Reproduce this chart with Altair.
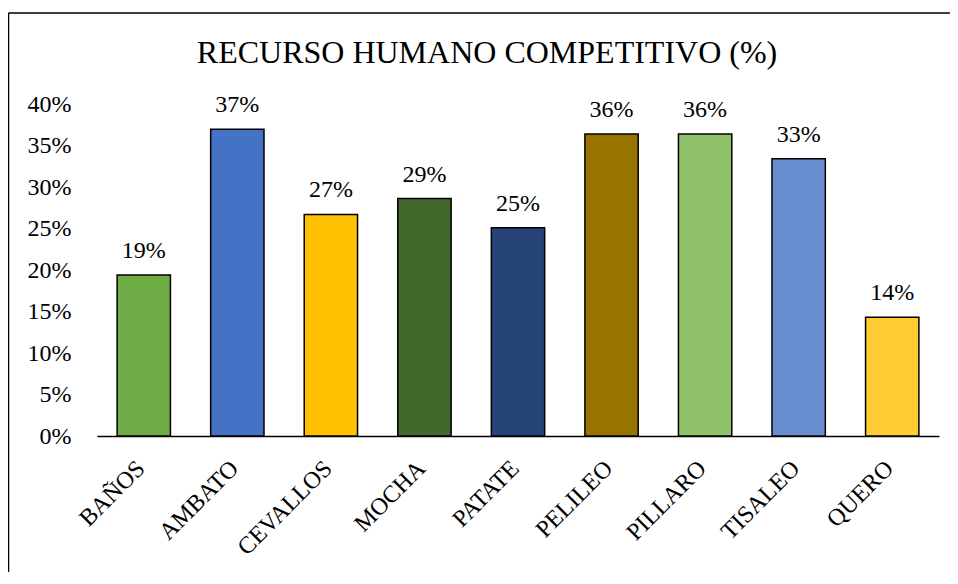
import altair as alt
import pandas as pd

cantones = ["BAÑOS", "AMBATO", "CEVALLOS", "MOCHA", "PATATE", "PELILEO", "PILLARO", "TISALEO", "QUERO"]
valores = [0.194, 0.3695, 0.267, 0.286, 0.251, 0.364, 0.364, 0.334, 0.143]
colores = ["#70AD47", "#4472C4", "#FFC000", "#43682B", "#264478", "#997300", "#8FC16A", "#698ED0", "#FFCD33"]
y_ticks = [0, 0.05, 0.10, 0.15, 0.20, 0.25, 0.30, 0.35, 0.40]
titulo = ["RECURSO HUMANO COMPETITIVO (%)"]

df = pd.DataFrame({"canton": cantones, "valor": valores, "color": colores})
df_titulo = pd.DataFrame({"t": titulo})

FONT = "Liberation Serif"

x = alt.X("canton:N", sort=cantones, title=None,
          scale=alt.Scale(paddingInner=0.43, paddingOuter=0.215),
          axis=alt.Axis(labelAngle=-45, labelFontSize=24, labelFont=FONT, labelColor="#000000",
                        ticks=False, domainColor="#000000", domainWidth=1.5, labelPadding=20,
                        labelOffset=-11, labelLimit=300))
y = alt.Y("valor:Q", title=None,
          scale=alt.Scale(domain=[0, 0.4], nice=False),
          axis=alt.Axis(values=y_ticks, format=".0%", labelFontSize=24, labelFont=FONT,
                        labelColor="#000000", ticks=False, domain=False, grid=False,
                        labelPadding=26))

bars = alt.Chart(df).mark_bar(stroke="#000000", strokeWidth=1.5).encode(
    x=x, y=y, color=alt.Color("color:N", scale=None)
)

labels = alt.Chart(df).mark_text(baseline="alphabetic", dy=-17, fontSize=24, font=FONT,
                                 color="#000000").encode(
    x=alt.X("canton:N", sort=cantones),
    y="valor:Q",
    text=alt.Text("valor:Q", format=".0%"),
)

title = alt.Chart(df_titulo).mark_text(baseline="alphabetic", align="center", fontSize=32,
                                       font=FONT, color="#000000").encode(
    x=alt.value(390), y=alt.value(-41), text="t:N"
)

border_top = alt.Chart(df_titulo).mark_rule(stroke="#000000", strokeWidth=1.5).encode(
    x=alt.value(-88.5), x2=alt.value(900), y=alt.value(-91)
)
border_left = alt.Chart(df_titulo).mark_rule(stroke="#000000", strokeWidth=1.5).encode(
    x=alt.value(-88.5), y=alt.value(-91), y2=alt.value(600)
)

chart = alt.layer(border_top, border_left, bars, labels, title).properties(
    width=842, height=332,
    autosize=alt.AutoSizeParams(type="none"),
    padding={"left": 89, "top": 96, "right": 11, "bottom": 136},
    background="#ffffff",
).configure_view(strokeWidth=0)

chart.save("out.html", embed_options={"renderer": "svg", "actions": False})
